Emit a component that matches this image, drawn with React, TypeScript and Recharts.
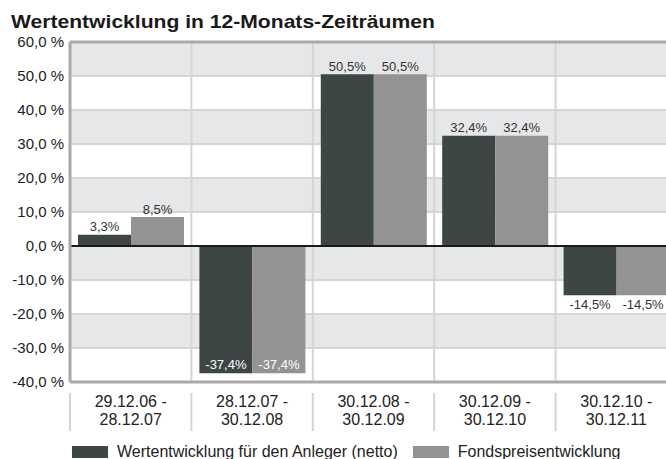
import React from "react";
import {
  Bar,
  BarChart,
  CartesianGrid,
  LabelList,
  Legend,
  ReferenceLine,
  XAxis,
  YAxis,
} from "recharts";

const periodFrom = ["29.12.06", "28.12.07", "30.12.08", "30.12.09", "30.12.10"];
const periodTo = ["28.12.07", "30.12.08", "30.12.09", "30.12.10", "30.12.11"];
const nettoValues = [3.3, -37.4, 50.5, 32.4, -14.5];
const fondsValues = [8.5, -37.4, 50.5, 32.4, -14.5];
const yTicks = [-40, -30, -20, -10, 0, 10, 20, 30, 40, 50, 60];

const seriesNames = {
  netto: "Wertentwicklung für den Anleger (netto)",
  fonds: "Fondspreisentwicklung",
};

const DARK = "#3e4645";
const GREY = "#939393";
const TEXT = "#222";
const FONT = "'Liberation Sans', Arial, Helvetica, sans-serif";

const CHART_W = 677;
const CHART_H = 459;
const Y_AXIS_W = 70;
const BAND = (CHART_W - Y_AXIS_W) / periodFrom.length;

const data = periodFrom.map((from, i) => ({
  period: `${from} - ${periodTo[i]}`,
  from,
  to: periodTo[i],
  netto: nettoValues[i],
  fonds: fondsValues[i],
}));

const fmt = (v: number, sep = " ") => `${v.toFixed(1).replace(".", ",")}${sep}%`;

function PeriodTick(props: any) {
  const { x, y, index } = props;
  return (
    <g>
      <line x1={x - BAND / 2} x2={x - BAND / 2} y1={y + 3} y2={y + 41} stroke="#d3d3d3" strokeWidth={2} />
      <text x={x} y={y + 16.5} textAnchor="middle" fontSize={16} fill={TEXT} fontFamily={FONT}>
        {`${periodFrom[index]} -`}
      </text>
      <text x={x} y={y + 35} textAnchor="middle" fontSize={16} fill={TEXT} fontFamily={FONT}>
        {periodTo[index]}
      </text>
    </g>
  );
}

function BarValueLabel(props: any) {
  const vb = props.viewBox || {};
  const x = props.x ?? vb.x;
  const y = props.y ?? vb.y;
  const w = props.width ?? vb.width;
  const h = props.height ?? vb.height;
  const v = Number(props.value);
  const top = Math.min(y, y + h);
  const bottom = Math.max(y, y + h);
  let cy = top - 8;
  let fill = "#333";
  if (v < 0) {
    if (v - 4.7 < yTicks[0]) {
      cy = bottom - 9;
      fill = "#ffffff";
    } else {
      cy = bottom + 9;
    }
  }
  return (
    <text x={x + w / 2} y={cy} dy="0.355em" textAnchor="middle" fontSize={13} fill={fill} fontFamily={FONT}>
      {fmt(v, "")}
    </text>
  );
}

function LegendBox() {
  const item = (color: string, label: string, gapAfter: number) => (
    <div style={{ display: "flex", alignItems: "center", marginRight: gapAfter }}>
      <div style={{ width: 36, height: 12, background: color, marginRight: 9 }} />
      <span style={{ fontSize: 16, lineHeight: "16px", color: TEXT, whiteSpace: "nowrap" }}>{label}</span>
    </div>
  );
  return (
    <div style={{ height: 25, paddingLeft: 72, paddingTop: 10, boxSizing: "border-box", display: "flex", fontFamily: FONT }}>
      {item(DARK, seriesNames.netto, 15)}
      {item(GREY, seriesNames.fonds, 0)}
    </div>
  );
}

export default function App() {
  return (
    <div
      style={{
        position: "absolute",
        left: 0,
        top: 0,
        width: 666,
        height: 459,
        overflow: "hidden",
        background: "#fff",
        fontFamily: FONT,
      }}
    >
      <div
        style={{
          position: "absolute",
          left: 11,
          top: 12,
          fontSize: 19,
          lineHeight: "19px",
          fontWeight: "bold",
          color: "#1a1a1a",
          whiteSpace: "nowrap",
          transform: "scaleX(1.11)",
          transformOrigin: "left center",
        }}
      >
        Wertentwicklung in 12-Monats-Zeiträumen
      </div>
      <BarChart
        width={CHART_W}
        height={CHART_H}
        data={data}
        margin={{ top: 42, right: 0, left: 0, bottom: 0 }}
        barGap={0}
        barSize={53}
      >
        <CartesianGrid
          stroke="#d4d5d7"
          strokeWidth={2}
          horizontalFill={["#e6e7e9", "#ffffff"]}
          verticalCoordinatesGenerator={({ offset }: any) =>
            [1, 2, 3, 4].map((i) => offset.left + (i * offset.width) / periodFrom.length)
          }
        />
        <XAxis
          dataKey="period"
          height={52}
          tickLine={false}
          tick={<PeriodTick />}
          interval={0}
          axisLine={{ stroke: "#a9a9a9", strokeWidth: 3 }}
        />
        <YAxis
          width={Y_AXIS_W}
          domain={[-40, 60]}
          ticks={yTicks}
          interval={0}
          tickLine={false}
          tickSize={4}
          tickMargin={2}
          tickFormatter={(v: number) => fmt(v)}
          tick={{ fontSize: 15, fill: TEXT, fontFamily: FONT }}
          axisLine={{ stroke: "#a9a9a9", strokeWidth: 3 }}
        />
        <ReferenceLine y={60} stroke="#a9a9a9" strokeWidth={3} />
        <Legend verticalAlign="bottom" align="left" wrapperStyle={{ left: 0 }} content={() => <LegendBox />} />
        <Bar dataKey="netto" name={seriesNames.netto} fill={DARK} isAnimationActive={false}>
          <LabelList dataKey="netto" content={<BarValueLabel />} />
        </Bar>
        <Bar dataKey="fonds" name={seriesNames.fonds} fill={GREY} isAnimationActive={false}>
          <LabelList dataKey="fonds" content={<BarValueLabel />} />
        </Bar>
        <ReferenceLine y={0} stroke="#1a1a1a" strokeWidth={2} />
      </BarChart>
    </div>
  );
}
